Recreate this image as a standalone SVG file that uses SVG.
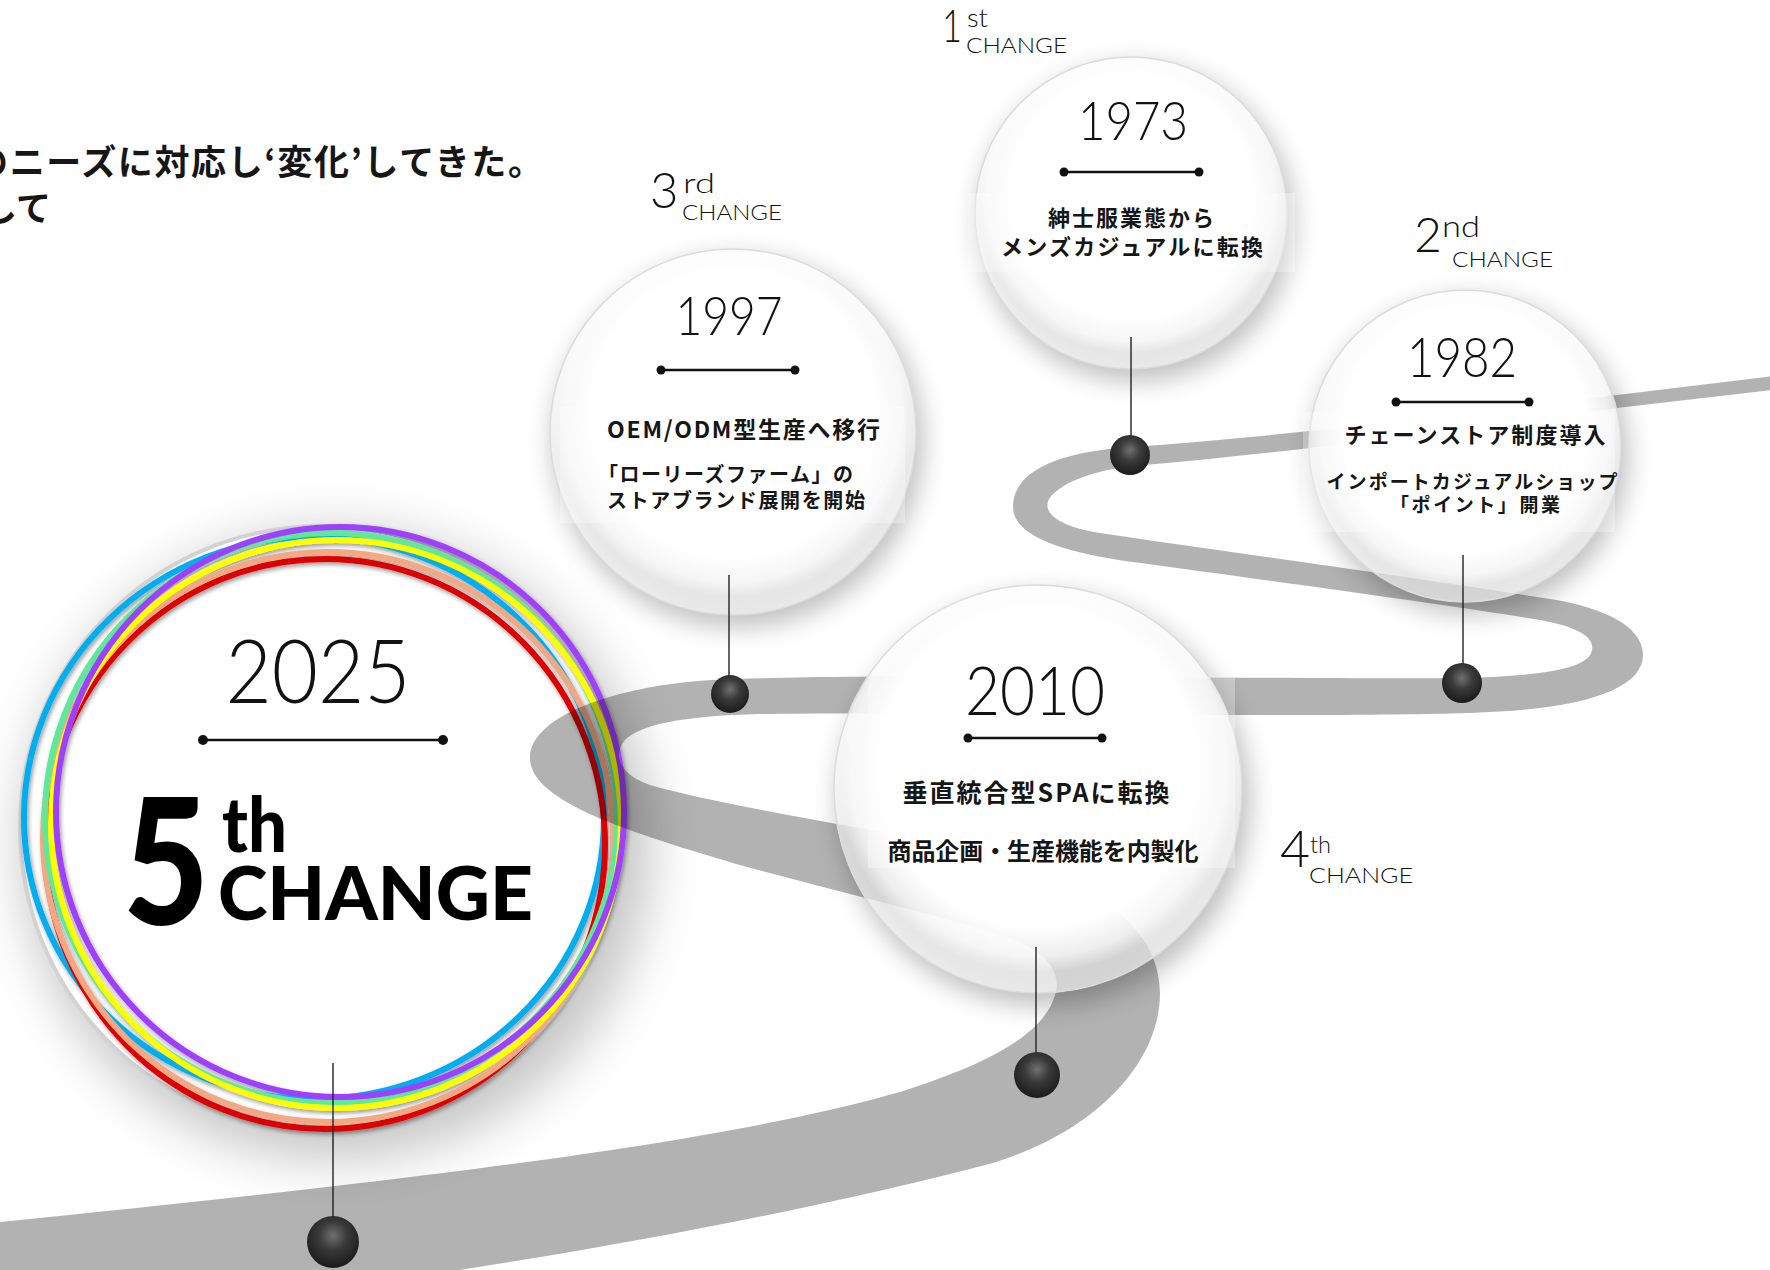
<svg xmlns="http://www.w3.org/2000/svg" width="1770" height="1270" viewBox="0 0 1770 1270">
<style>
.yr{font-family:Lato,'Noto Sans',sans-serif;font-weight:300;fill:#111;text-anchor:middle}
.jp{font-family:'Noto Sans CJK JP',sans-serif;font-weight:700;fill:#161616}
.jpc{font-family:'Noto Sans CJK JP',sans-serif;font-weight:700;fill:#161616;text-anchor:middle}
.lbl{font-family:Lato,'Noto Sans',sans-serif;font-weight:300;fill:#111}
.big{font-family:Lato,'Noto Sans',sans-serif;font-weight:900;fill:#000}
.div{stroke:#111;stroke-width:2.5}
.dot{fill:#111}
.conn{stroke:#222;stroke-width:1.4}
.lens{fill:url(#lens);stroke:#dcdcdc;stroke-width:1.5}
.band{fill:#fff;opacity:0.3}
.ring{fill:none;stroke-width:6}
</style>
<defs>
<radialGradient id="lens" cx="0.5" cy="0.45" r="0.5">
<stop offset="0" stop-color="#fff" stop-opacity="1"/>
<stop offset="0.78" stop-color="#fff" stop-opacity="1"/>
<stop offset="0.92" stop-color="#fff" stop-opacity="0.86"/>
<stop offset="1" stop-color="#f8f8f8" stop-opacity="0.68"/>
</radialGradient>
<radialGradient id="ball" cx="0.5" cy="0.38" r="0.6">
<stop offset="0" stop-color="#707070"/>
<stop offset="0.45" stop-color="#3a3a3a"/>
<stop offset="1" stop-color="#1c1c1c"/>
</radialGradient>
<filter id="blur" x="-40%" y="-40%" width="180%" height="180%">
<feGaussianBlur stdDeviation="13"/>
</filter>
<filter id="blurBig" x="-40%" y="-40%" width="180%" height="180%">
<feGaussianBlur stdDeviation="26"/>
</filter>
<filter id="ringsh" x="-10%" y="-10%" width="120%" height="120%">
<feDropShadow dx="1.5" dy="2.5" stdDeviation="2" flood-color="#000" flood-opacity="0.4"/>
</filter>
</defs>
<rect width="1770" height="1270" fill="#fff"/>

<g id="intro">
<text class="jp" x="-27" y="175" font-size="35" textLength="570" lengthAdjust="spacing">のニーズに対応し‘変化’してきた。</text>
<text class="jp" x="-18" y="221" font-size="35">して</text>
</g>

<g id="node-2025">
<circle cx="336" cy="845" r="315" fill="#000" opacity="0.22" filter="url(#blurBig)"/>
<circle cx="322" cy="828" r="302" fill="#fff" stroke="#d2d2d2" stroke-width="4"/>
<g filter="url(#ringsh)">
<ellipse class="ring" cx="314" cy="818" rx="290" ry="281" stroke="#00aeef"/>
<ellipse class="ring" cx="325" cy="844" rx="280" ry="285" stroke="#dd0000"/>
<ellipse class="ring" cx="328" cy="837" rx="285" ry="285" stroke="#f2a882"/>
<ellipse class="ring" cx="331" cy="818" rx="286" ry="285" stroke="#5ee89c"/>
<ellipse class="ring" cx="336" cy="824" rx="285" ry="284" stroke="#ffff00"/>
<ellipse class="ring" cx="340" cy="812" rx="284" ry="285" stroke="#a040ff"/>
</g>
<text class="yr" x="318" y="703" font-size="88" textLength="185" lengthAdjust="spacingAndGlyphs">2025</text>
<line class="div" x1="203" y1="740" x2="443" y2="740"/>
<circle class="dot" cx="203" cy="740" r="5"/>
<circle class="dot" cx="443" cy="740" r="5"/>
<text class="big" x="123" y="925" font-size="176" textLength="86" lengthAdjust="spacingAndGlyphs">5</text>
<text class="big" x="222" y="852" font-size="76" textLength="65" lengthAdjust="spacingAndGlyphs">th</text>
<text class="big" x="218" y="920" font-size="74" textLength="315" lengthAdjust="spacingAndGlyphs">CHANGE</text>
</g>

<g id="road">
<path fill="#000" fill-opacity="0.3" d="M 1790 374 L 1617 395 C 1450 415 1300 435 1130 447 C 1060 452 1013 470 1013 507 C 1013 535 1060 552 1133 562 C 1250 578 1450 605 1540 620 C 1585 628 1594 640 1592 650 C 1590 665 1560 675 1470 678 C 1300 680 900 672 713 680 C 620 685 530 715 530 758 C 530 800 620 830 747 867 C 850 895 950 918 1000 935 C 1050 950 1062 975 1055 995 C 1045 1030 1000 1060 900 1092 C 750 1135 500 1172 0 1222 L -20 1224 L -20 1330 C 300 1300 700 1240 993 1163 C 1100 1130 1160 1060 1160 993 C 1160 920 1080 870 950 845 C 850 825 720 805 650 785 C 620 775 612 755 625 740 C 640 725 680 716 760 714 C 1000 712 1300 718 1470 713 C 1580 710 1643 690 1643 655 C 1643 625 1600 605 1537 597 C 1400 575 1200 548 1100 533 C 1050 525 1040 508 1052 495 C 1070 478 1100 470 1133 466 C 1300 452 1500 424 1617 408 L 1790 388 Z"/>
</g>

<g id="node-1997">
<circle cx="738" cy="442" r="185" fill="#000" opacity="0.25" filter="url(#blur)"/>
<circle class="lens" cx="733" cy="432" r="183"/>
<rect class="band" x="560" y="407" width="345" height="116"/>
<text class="lbl" x="650" y="208" font-size="49">3</text>
<text class="lbl" x="683" y="193" font-size="27" textLength="32" lengthAdjust="spacingAndGlyphs">rd</text>
<text class="lbl" x="682" y="220" font-size="22" textLength="100" lengthAdjust="spacingAndGlyphs">CHANGE</text>
<text class="yr" x="729" y="335" font-size="54" textLength="107" lengthAdjust="spacingAndGlyphs">1997</text>
<line class="div" x1="661" y1="370" x2="795" y2="370"/>
<circle class="dot" cx="661" cy="370" r="4.5"/>
<circle class="dot" cx="795" cy="370" r="4.5"/>
<text class="jp" x="607" y="438" font-size="23" textLength="273" lengthAdjust="spacing">OEM/ODM型生産へ移行</text>
<text class="jp" x="598" y="482" font-size="20" textLength="255" lengthAdjust="spacing">「ローリーズファーム」の</text>
<text class="jp" x="607" y="508" font-size="20" textLength="258" lengthAdjust="spacing">ストアブランド展開を開始</text>
</g>

<g id="node-1973">
<circle cx="1136" cy="223" r="158" fill="#000" opacity="0.25" filter="url(#blur)"/>
<circle class="lens" cx="1131" cy="213" r="156"/>
<rect class="band" x="968" y="193" width="327" height="79"/>
<text class="lbl" x="942" y="42" font-size="46" textLength="20" lengthAdjust="spacingAndGlyphs">1</text>
<text class="lbl" x="967" y="27" font-size="26" textLength="21" lengthAdjust="spacingAndGlyphs">st</text>
<text class="lbl" x="966" y="53" font-size="21" textLength="101" lengthAdjust="spacingAndGlyphs">CHANGE</text>
<text class="yr" x="1133" y="140" font-size="54" textLength="110" lengthAdjust="spacingAndGlyphs">1973</text>
<line class="div" x1="1064" y1="172" x2="1199" y2="172"/>
<circle class="dot" cx="1064" cy="172" r="4.5"/>
<circle class="dot" cx="1199" cy="172" r="4.5"/>
<text class="jpc" x="1131" y="226" font-size="22" textLength="166" lengthAdjust="spacing">紳士服業態から</text>
<text class="jpc" x="1132" y="255" font-size="22" textLength="262" lengthAdjust="spacing">メンズカジュアルに転換</text>
</g>

<g id="node-1982">
<circle cx="1470" cy="456" r="158" fill="#000" opacity="0.25" filter="url(#blur)"/>
<circle class="lens" cx="1465" cy="446" r="156"/>
<rect class="band" x="1303" y="412" width="312" height="120"/>
<text class="lbl" x="1414" y="252" font-size="48">2</text>
<text class="lbl" x="1442" y="237" font-size="30" textLength="38" lengthAdjust="spacingAndGlyphs">nd</text>
<text class="lbl" x="1452" y="267" font-size="22" textLength="101" lengthAdjust="spacingAndGlyphs">CHANGE</text>
<text class="yr" x="1462" y="377" font-size="56" textLength="110" lengthAdjust="spacingAndGlyphs">1982</text>
<line class="div" x1="1396" y1="402" x2="1529" y2="402"/>
<circle class="dot" cx="1396" cy="402" r="4.5"/>
<circle class="dot" cx="1529" cy="402" r="4.5"/>
<text class="jpc" x="1475" y="443" font-size="22" textLength="261" lengthAdjust="spacing">チェーンストア制度導入</text>
<text class="jpc" x="1472" y="489" font-size="19" textLength="291" lengthAdjust="spacing">インポートカジュアルショップ</text>
<text class="jpc" x="1475" y="512" font-size="19" textLength="170" lengthAdjust="spacing">「ポイント」開業</text>
</g>

<g id="node-2010">
<circle cx="1044" cy="800" r="206" fill="#000" opacity="0.25" filter="url(#blur)"/>
<circle class="lens" cx="1038" cy="789" r="204"/>
<rect class="band" x="868" y="677" width="367" height="191"/>
<text class="lbl" x="1280" y="867" font-size="52">4</text>
<text class="lbl" x="1310" y="853" font-size="23" textLength="21" lengthAdjust="spacingAndGlyphs">th</text>
<text class="lbl" x="1309" y="883" font-size="22" textLength="104" lengthAdjust="spacingAndGlyphs">CHANGE</text>
<text class="yr" x="1035" y="715" font-size="67" textLength="140" lengthAdjust="spacingAndGlyphs">2010</text>
<line class="div" x1="968" y1="738" x2="1102" y2="738"/>
<circle class="dot" cx="968" cy="738" r="4.5"/>
<circle class="dot" cx="1102" cy="738" r="4.5"/>
<text class="jpc" x="1036" y="802" font-size="25" textLength="267" lengthAdjust="spacing">垂直統合型SPAに転換</text>
<text class="jpc" x="1043" y="860" font-size="24" textLength="311" lengthAdjust="spacing">商品企画・生産機能を内製化</text>
</g>

<g id="connectors">
<line class="conn" x1="1131" y1="337" x2="1131" y2="440"/>
<line class="conn" x1="729" y1="575" x2="729" y2="680"/>
<line class="conn" x1="1463" y1="555" x2="1463" y2="668"/>
<line class="conn" x1="1036" y1="947" x2="1036" y2="1056"/>
<line class="conn" x1="333" y1="1063" x2="333" y2="1220"/>
<circle cx="1130" cy="455" r="20" fill="url(#ball)"/>
<circle cx="730" cy="694" r="19" fill="url(#ball)"/>
<circle cx="1462" cy="683" r="20" fill="url(#ball)"/>
<circle cx="1037" cy="1075" r="23" fill="url(#ball)"/>
<circle cx="333" cy="1242" r="26" fill="url(#ball)"/>
</g>
</svg>
